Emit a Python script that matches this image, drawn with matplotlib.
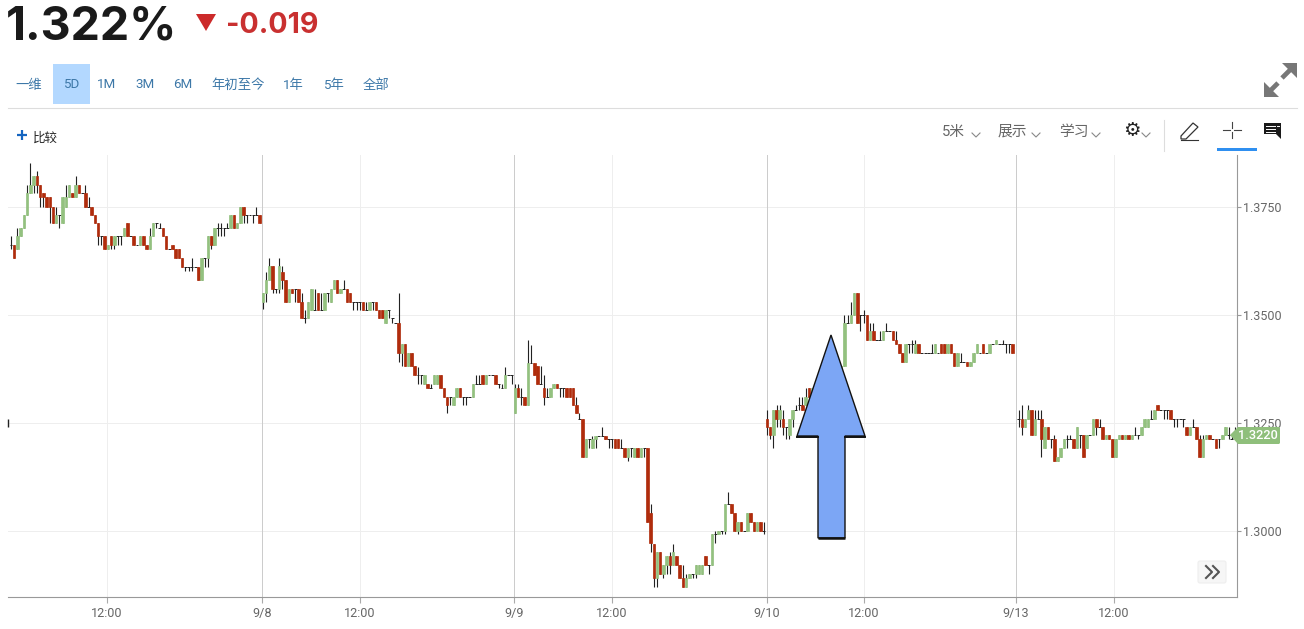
"""Redraw of a 5D 5-minute candlestick chart with its quote header and toolbar."""
import matplotlib
matplotlib.use("Agg")
import matplotlib.pyplot as plt
from matplotlib.patches import Polygon, Rectangle, FancyBboxPatch

plt.rcParams["font.family"] = ["Roboto", "Noto Sans CJK SC", "DejaVu Sans"]

# bars are (open, high, low, close), one list per trading session
session_1 = [
    (1.3662, 1.3682, 1.3652, 1.3662), (1.3662, 1.3662, 1.3633, 1.3633), (1.3652, 1.3701, 1.3652, 1.3682),
    (1.3682, 1.3701, 1.3682, 1.3701), (1.3701, 1.3731, 1.3701, 1.3731), (1.3731, 1.3802, 1.3731, 1.3782),
    (1.3782, 1.3851, 1.3782, 1.3802), (1.3802, 1.3821, 1.3782, 1.3821), (1.3821, 1.3833, 1.3782, 1.3802),
    (1.3802, 1.3802, 1.3750, 1.3772), (1.3782, 1.3782, 1.3750, 1.3772), (1.3772, 1.3772, 1.3750, 1.3750),
    (1.3772, 1.3772, 1.3712, 1.3750), (1.3750, 1.3750, 1.3712, 1.3712), (1.3712, 1.3750, 1.3712, 1.3731),
    (1.3731, 1.3731, 1.3701, 1.3731), (1.3712, 1.3772, 1.3712, 1.3772), (1.3750, 1.3802, 1.3750, 1.3772),
    (1.3772, 1.3802, 1.3772, 1.3802), (1.3782, 1.3782, 1.3772, 1.3772), (1.3772, 1.3821, 1.3772, 1.3802),
    (1.3802, 1.3802, 1.3782, 1.3782), (1.3782, 1.3782, 1.3782, 1.3782), (1.3782, 1.3802, 1.3750, 1.3750),
    (1.3750, 1.3772, 1.3750, 1.3750), (1.3750, 1.3750, 1.3731, 1.3731), (1.3731, 1.3731, 1.3712, 1.3712),
    (1.3712, 1.3712, 1.3662, 1.3682), (1.3682, 1.3682, 1.3662, 1.3682), (1.3682, 1.3682, 1.3652, 1.3652),
    (1.3652, 1.3662, 1.3652, 1.3662), (1.3682, 1.3682, 1.3652, 1.3662), (1.3662, 1.3682, 1.3652, 1.3682),
    (1.3682, 1.3682, 1.3662, 1.3682), (1.3682, 1.3682, 1.3662, 1.3682), (1.3682, 1.3701, 1.3682, 1.3701),
    (1.3712, 1.3712, 1.3682, 1.3682), (1.3682, 1.3682, 1.3682, 1.3682), (1.3682, 1.3682, 1.3662, 1.3662),
    (1.3662, 1.3662, 1.3662, 1.3662), (1.3662, 1.3682, 1.3662, 1.3682), (1.3682, 1.3682, 1.3662, 1.3662),
    (1.3662, 1.3662, 1.3652, 1.3652), (1.3652, 1.3701, 1.3652, 1.3682), (1.3682, 1.3712, 1.3682, 1.3712),
    (1.3712, 1.3712, 1.3701, 1.3712), (1.3701, 1.3712, 1.3701, 1.3701), (1.3701, 1.3701, 1.3682, 1.3682),
    (1.3682, 1.3682, 1.3652, 1.3652), (1.3652, 1.3652, 1.3652, 1.3652), (1.3662, 1.3662, 1.3652, 1.3652),
    (1.3652, 1.3652, 1.3633, 1.3633), (1.3652, 1.3652, 1.3633, 1.3633), (1.3633, 1.3633, 1.3612, 1.3612),
    (1.3612, 1.3612, 1.3603, 1.3612), (1.3612, 1.3612, 1.3603, 1.3612), (1.3612, 1.3633, 1.3603, 1.3612),
    (1.3612, 1.3612, 1.3612, 1.3612), (1.3612, 1.3612, 1.3582, 1.3582), (1.3582, 1.3633, 1.3582, 1.3633),
    (1.3633, 1.3633, 1.3612, 1.3633), (1.3633, 1.3682, 1.3612, 1.3682), (1.3682, 1.3682, 1.3652, 1.3662),
    (1.3662, 1.3701, 1.3662, 1.3701), (1.3701, 1.3712, 1.3682, 1.3701), (1.3701, 1.3712, 1.3682, 1.3701),
    (1.3701, 1.3701, 1.3682, 1.3701), (1.3701, 1.3712, 1.3701, 1.3701), (1.3701, 1.3731, 1.3701, 1.3731),
    (1.3731, 1.3731, 1.3701, 1.3701), (1.3701, 1.3712, 1.3701, 1.3712), (1.3712, 1.3750, 1.3712, 1.3750),
    (1.3750, 1.3750, 1.3712, 1.3731), (1.3731, 1.3731, 1.3712, 1.3731), (1.3731, 1.3731, 1.3731, 1.3731),
    (1.3731, 1.3731, 1.3712, 1.3731), (1.3731, 1.3750, 1.3731, 1.3731), (1.3731, 1.3731, 1.3712, 1.3712),
]
session_2 = [
    (1.3530, 1.3552, 1.3513, 1.3552), (1.3552, 1.3600, 1.3530, 1.3582), (1.3582, 1.3631, 1.3582, 1.3613),
    (1.3613, 1.3613, 1.3552, 1.3561), (1.3561, 1.3561, 1.3552, 1.3561), (1.3561, 1.3631, 1.3552, 1.3613),
    (1.3600, 1.3613, 1.3561, 1.3582), (1.3582, 1.3582, 1.3530, 1.3530), (1.3530, 1.3561, 1.3530, 1.3561),
    (1.3561, 1.3561, 1.3552, 1.3552), (1.3561, 1.3561, 1.3530, 1.3561), (1.3561, 1.3561, 1.3530, 1.3530),
    (1.3530, 1.3552, 1.3492, 1.3492), (1.3492, 1.3511, 1.3482, 1.3492), (1.3492, 1.3530, 1.3492, 1.3530),
    (1.3511, 1.3561, 1.3511, 1.3561), (1.3511, 1.3561, 1.3511, 1.3511), (1.3552, 1.3552, 1.3511, 1.3511),
    (1.3511, 1.3552, 1.3511, 1.3511), (1.3511, 1.3552, 1.3511, 1.3552), (1.3552, 1.3552, 1.3530, 1.3552),
    (1.3530, 1.3561, 1.3530, 1.3561), (1.3561, 1.3582, 1.3561, 1.3582), (1.3582, 1.3582, 1.3552, 1.3552),
    (1.3552, 1.3561, 1.3552, 1.3561), (1.3561, 1.3582, 1.3561, 1.3561), (1.3561, 1.3561, 1.3530, 1.3530),
    (1.3552, 1.3552, 1.3530, 1.3530), (1.3530, 1.3530, 1.3511, 1.3530), (1.3530, 1.3530, 1.3511, 1.3530),
    (1.3530, 1.3530, 1.3511, 1.3530), (1.3530, 1.3530, 1.3511, 1.3511), (1.3511, 1.3530, 1.3511, 1.3511),
    (1.3511, 1.3530, 1.3511, 1.3530), (1.3530, 1.3530, 1.3511, 1.3530), (1.3530, 1.3530, 1.3511, 1.3511),
    (1.3511, 1.3511, 1.3492, 1.3492), (1.3511, 1.3511, 1.3492, 1.3492), (1.3482, 1.3511, 1.3482, 1.3511),
    (1.3511, 1.3511, 1.3492, 1.3511), (1.3492, 1.3492, 1.3482, 1.3492), (1.3482, 1.3482, 1.3482, 1.3482),
    (1.3482, 1.3552, 1.3391, 1.3412), (1.3412, 1.3432, 1.3382, 1.3432), (1.3432, 1.3432, 1.3382, 1.3382),
    (1.3382, 1.3411, 1.3382, 1.3411), (1.3411, 1.3411, 1.3382, 1.3382), (1.3382, 1.3382, 1.3361, 1.3361),
    (1.3361, 1.3380, 1.3341, 1.3361), (1.3361, 1.3361, 1.3341, 1.3361), (1.3341, 1.3361, 1.3341, 1.3361),
    (1.3341, 1.3341, 1.3331, 1.3331), (1.3331, 1.3341, 1.3331, 1.3331), (1.3341, 1.3361, 1.3341, 1.3361),
    (1.3341, 1.3361, 1.3341, 1.3361), (1.3361, 1.3361, 1.3331, 1.3331), (1.3331, 1.3331, 1.3310, 1.3310),
    (1.3310, 1.3310, 1.3272, 1.3291), (1.3310, 1.3310, 1.3291, 1.3310), (1.3291, 1.3310, 1.3291, 1.3310),
    (1.3310, 1.3331, 1.3310, 1.3331), (1.3331, 1.3331, 1.3310, 1.3310), (1.3310, 1.3310, 1.3291, 1.3310),
    (1.3310, 1.3310, 1.3291, 1.3310), (1.3310, 1.3310, 1.3310, 1.3310), (1.3310, 1.3341, 1.3310, 1.3341),
    (1.3341, 1.3361, 1.3341, 1.3341), (1.3341, 1.3361, 1.3341, 1.3341), (1.3361, 1.3361, 1.3341, 1.3341),
    (1.3341, 1.3361, 1.3341, 1.3361), (1.3361, 1.3361, 1.3361, 1.3361), (1.3361, 1.3361, 1.3361, 1.3361),
    (1.3361, 1.3361, 1.3341, 1.3341), (1.3341, 1.3341, 1.3331, 1.3341), (1.3331, 1.3341, 1.3331, 1.3331),
    (1.3331, 1.3380, 1.3331, 1.3361), (1.3361, 1.3361, 1.3361, 1.3361), (1.3361, 1.3361, 1.3341, 1.3361),
]
session_3 = [
    (1.3272, 1.3341, 1.3272, 1.3332), (1.3332, 1.3341, 1.3311, 1.3311), (1.3311, 1.3332, 1.3292, 1.3311),
    (1.3311, 1.3311, 1.3292, 1.3292), (1.3292, 1.3442, 1.3292, 1.3390), (1.3390, 1.3430, 1.3390, 1.3390),
    (1.3390, 1.3390, 1.3362, 1.3362), (1.3382, 1.3382, 1.3341, 1.3341), (1.3341, 1.3382, 1.3341, 1.3341),
    (1.3332, 1.3362, 1.3292, 1.3311), (1.3311, 1.3332, 1.3311, 1.3311), (1.3311, 1.3332, 1.3311, 1.3332),
    (1.3332, 1.3341, 1.3332, 1.3341), (1.3341, 1.3341, 1.3332, 1.3332), (1.3332, 1.3332, 1.3311, 1.3332),
    (1.3332, 1.3332, 1.3311, 1.3332), (1.3332, 1.3332, 1.3311, 1.3311), (1.3332, 1.3332, 1.3311, 1.3311),
    (1.3332, 1.3332, 1.3292, 1.3292), (1.3292, 1.3311, 1.3272, 1.3272), (1.3260, 1.3272, 1.3260, 1.3260),
    (1.3260, 1.3260, 1.3172, 1.3172), (1.3172, 1.3212, 1.3172, 1.3212), (1.3212, 1.3212, 1.3192, 1.3212),
    (1.3192, 1.3221, 1.3192, 1.3212), (1.3212, 1.3221, 1.3192, 1.3221), (1.3221, 1.3221, 1.3221, 1.3221),
    (1.3221, 1.3241, 1.3221, 1.3221), (1.3221, 1.3221, 1.3212, 1.3212), (1.3212, 1.3212, 1.3192, 1.3212),
    (1.3212, 1.3212, 1.3192, 1.3212), (1.3212, 1.3212, 1.3192, 1.3192), (1.3212, 1.3212, 1.3192, 1.3192),
    (1.3192, 1.3212, 1.3192, 1.3192), (1.3192, 1.3192, 1.3172, 1.3172), (1.3172, 1.3192, 1.3162, 1.3192),
    (1.3192, 1.3192, 1.3172, 1.3192), (1.3172, 1.3192, 1.3172, 1.3192), (1.3192, 1.3192, 1.3172, 1.3172),
    (1.3172, 1.3192, 1.3172, 1.3192), (1.3192, 1.3192, 1.3172, 1.3192), (1.3192, 1.3192, 1.3021, 1.3021),
    (1.3041, 1.3062, 1.2952, 1.2973), (1.2971, 1.2971, 1.2871, 1.2891), (1.2891, 1.2952, 1.2871, 1.2952),
    (1.2952, 1.2952, 1.2901, 1.2901), (1.2901, 1.2921, 1.2891, 1.2921), (1.2921, 1.2942, 1.2901, 1.2942),
    (1.2942, 1.2952, 1.2901, 1.2921), (1.2921, 1.2971, 1.2921, 1.2952), (1.2942, 1.2942, 1.2921, 1.2921),
    (1.2921, 1.2921, 1.2891, 1.2891), (1.2891, 1.2921, 1.2871, 1.2871), (1.2871, 1.2901, 1.2871, 1.2891),
    (1.2891, 1.2901, 1.2891, 1.2901), (1.2901, 1.2901, 1.2891, 1.2901), (1.2901, 1.2921, 1.2891, 1.2921),
    (1.2901, 1.2921, 1.2901, 1.2921), (1.2901, 1.2921, 1.2901, 1.2921), (1.2942, 1.2942, 1.2921, 1.2921),
    (1.2921, 1.2921, 1.2901, 1.2921), (1.2921, 1.2992, 1.2921, 1.2992), (1.2992, 1.3000, 1.2973, 1.2992),
    (1.2992, 1.3001, 1.2992, 1.3001), (1.3001, 1.3001, 1.2992, 1.3001), (1.3001, 1.3062, 1.2992, 1.3062),
    (1.3062, 1.3091, 1.3062, 1.3062), (1.3062, 1.3062, 1.3041, 1.3041), (1.3041, 1.3041, 1.3000, 1.3000),
    (1.3000, 1.3021, 1.2992, 1.3021), (1.3021, 1.3021, 1.3000, 1.3000), (1.3000, 1.3000, 1.3000, 1.3000),
    (1.3000, 1.3041, 1.3000, 1.3041), (1.3041, 1.3041, 1.3021, 1.3021), (1.3021, 1.3021, 1.3000, 1.3000),
    (1.3000, 1.3021, 1.3000, 1.3021), (1.3021, 1.3021, 1.3000, 1.3000), (1.3000, 1.3021, 1.2992, 1.3000),
]
session_4 = [
    (1.3260, 1.3280, 1.3222, 1.3241), (1.3241, 1.3241, 1.3212, 1.3222), (1.3222, 1.3280, 1.3193, 1.3280),
    (1.3280, 1.3291, 1.3241, 1.3260), (1.3260, 1.3291, 1.3241, 1.3280), (1.3260, 1.3280, 1.3222, 1.3241),
    (1.3241, 1.3241, 1.3212, 1.3241), (1.3222, 1.3260, 1.3212, 1.3260), (1.3260, 1.3280, 1.3241, 1.3280),
    (1.3280, 1.3291, 1.3280, 1.3280), (1.3291, 1.3310, 1.3280, 1.3291), (1.3291, 1.3310, 1.3280, 1.3280),
    (1.3291, 1.3331, 1.3291, 1.3310), (1.3331, 1.3331, 1.3310, 1.3310), (1.3310, 1.3331, 1.3310, 1.3331),
    (1.3331, 1.3331, 1.3331, 1.3331), (1.3331, 1.3341, 1.3322, 1.3322), (1.3322, 1.3341, 1.3322, 1.3341),
    (1.3341, 1.3351, 1.3331, 1.3331), (1.3331, 1.3351, 1.3331, 1.3351), (1.3351, 1.3361, 1.3341, 1.3341),
    (1.3341, 1.3361, 1.3341, 1.3361), (1.3361, 1.3361, 1.3351, 1.3361), (1.3361, 1.3381, 1.3361, 1.3381),
    (1.3381, 1.3501, 1.3381, 1.3482), (1.3482, 1.3501, 1.3482, 1.3482), (1.3482, 1.3530, 1.3482, 1.3501),
    (1.3501, 1.3552, 1.3501, 1.3552), (1.3552, 1.3552, 1.3482, 1.3482), (1.3501, 1.3501, 1.3462, 1.3501),
    (1.3501, 1.3511, 1.3482, 1.3501), (1.3501, 1.3501, 1.3442, 1.3442), (1.3442, 1.3482, 1.3442, 1.3462),
    (1.3462, 1.3482, 1.3442, 1.3442), (1.3442, 1.3442, 1.3442, 1.3442), (1.3442, 1.3462, 1.3442, 1.3442),
    (1.3442, 1.3462, 1.3442, 1.3462), (1.3462, 1.3482, 1.3462, 1.3462), (1.3462, 1.3462, 1.3462, 1.3462),
    (1.3462, 1.3462, 1.3442, 1.3442), (1.3442, 1.3462, 1.3432, 1.3432), (1.3432, 1.3432, 1.3411, 1.3411),
    (1.3411, 1.3411, 1.3391, 1.3391), (1.3391, 1.3432, 1.3391, 1.3432), (1.3432, 1.3432, 1.3411, 1.3432),
    (1.3432, 1.3442, 1.3411, 1.3432), (1.3411, 1.3442, 1.3411, 1.3432), (1.3432, 1.3432, 1.3411, 1.3411),
    (1.3411, 1.3411, 1.3411, 1.3411), (1.3411, 1.3411, 1.3411, 1.3411), (1.3411, 1.3411, 1.3411, 1.3411),
    (1.3411, 1.3432, 1.3411, 1.3411), (1.3411, 1.3432, 1.3411, 1.3432), (1.3411, 1.3411, 1.3411, 1.3411),
    (1.3432, 1.3432, 1.3411, 1.3411), (1.3432, 1.3432, 1.3411, 1.3411), (1.3411, 1.3432, 1.3411, 1.3432),
    (1.3432, 1.3432, 1.3411, 1.3411), (1.3411, 1.3411, 1.3381, 1.3381), (1.3381, 1.3411, 1.3381, 1.3411),
    (1.3391, 1.3411, 1.3391, 1.3391), (1.3391, 1.3391, 1.3391, 1.3391), (1.3391, 1.3391, 1.3381, 1.3381),
    (1.3381, 1.3391, 1.3381, 1.3391), (1.3391, 1.3411, 1.3391, 1.3411), (1.3411, 1.3432, 1.3411, 1.3432),
    (1.3411, 1.3411, 1.3411, 1.3411), (1.3432, 1.3432, 1.3411, 1.3411), (1.3411, 1.3411, 1.3411, 1.3411),
    (1.3411, 1.3432, 1.3411, 1.3432), (1.3432, 1.3432, 1.3432, 1.3432), (1.3432, 1.3442, 1.3432, 1.3442),
    (1.3432, 1.3432, 1.3432, 1.3432), (1.3432, 1.3442, 1.3432, 1.3432), (1.3432, 1.3432, 1.3411, 1.3432),
    (1.3432, 1.3432, 1.3411, 1.3432), (1.3432, 1.3432, 1.3411, 1.3411),
]
session_5 = [
    (1.3260, 1.3281, 1.3241, 1.3260), (1.3260, 1.3291, 1.3222, 1.3241), (1.3241, 1.3260, 1.3241, 1.3260),
    (1.3260, 1.3291, 1.3260, 1.3281), (1.3281, 1.3281, 1.3222, 1.3222), (1.3222, 1.3281, 1.3222, 1.3260),
    (1.3260, 1.3281, 1.3260, 1.3260), (1.3260, 1.3281, 1.3172, 1.3212), (1.3191, 1.3241, 1.3191, 1.3241),
    (1.3241, 1.3241, 1.3212, 1.3212), (1.3212, 1.3212, 1.3191, 1.3212), (1.3212, 1.3222, 1.3162, 1.3162),
    (1.3162, 1.3172, 1.3162, 1.3172), (1.3172, 1.3191, 1.3172, 1.3191), (1.3191, 1.3212, 1.3191, 1.3212),
    (1.3212, 1.3222, 1.3191, 1.3212), (1.3212, 1.3222, 1.3212, 1.3212), (1.3212, 1.3212, 1.3191, 1.3191),
    (1.3191, 1.3241, 1.3191, 1.3241), (1.3222, 1.3222, 1.3191, 1.3222), (1.3222, 1.3222, 1.3172, 1.3172),
    (1.3191, 1.3222, 1.3191, 1.3222), (1.3222, 1.3222, 1.3222, 1.3222), (1.3222, 1.3260, 1.3222, 1.3260),
    (1.3260, 1.3260, 1.3222, 1.3241), (1.3241, 1.3260, 1.3241, 1.3241), (1.3241, 1.3241, 1.3212, 1.3212),
    (1.3212, 1.3222, 1.3212, 1.3222), (1.3222, 1.3222, 1.3212, 1.3212), (1.3212, 1.3212, 1.3172, 1.3172),
    (1.3172, 1.3212, 1.3172, 1.3212), (1.3212, 1.3222, 1.3212, 1.3222), (1.3222, 1.3222, 1.3212, 1.3212),
    (1.3212, 1.3222, 1.3212, 1.3222), (1.3222, 1.3222, 1.3212, 1.3212), (1.3212, 1.3222, 1.3212, 1.3222),
    (1.3222, 1.3241, 1.3222, 1.3222), (1.3222, 1.3222, 1.3212, 1.3222), (1.3222, 1.3241, 1.3222, 1.3241),
    (1.3241, 1.3260, 1.3241, 1.3260), (1.3241, 1.3260, 1.3241, 1.3260), (1.3260, 1.3281, 1.3260, 1.3260),
    (1.3260, 1.3281, 1.3260, 1.3281), (1.3291, 1.3291, 1.3281, 1.3281), (1.3281, 1.3281, 1.3281, 1.3281),
    (1.3281, 1.3281, 1.3260, 1.3281), (1.3281, 1.3281, 1.3260, 1.3281), (1.3281, 1.3281, 1.3260, 1.3260),
    (1.3260, 1.3260, 1.3241, 1.3260), (1.3260, 1.3260, 1.3241, 1.3260), (1.3260, 1.3260, 1.3260, 1.3260),
    (1.3260, 1.3260, 1.3241, 1.3260), (1.3241, 1.3241, 1.3222, 1.3222), (1.3222, 1.3241, 1.3222, 1.3241),
    (1.3241, 1.3260, 1.3241, 1.3241), (1.3241, 1.3241, 1.3212, 1.3212), (1.3212, 1.3222, 1.3172, 1.3172),
    (1.3172, 1.3222, 1.3172, 1.3212), (1.3212, 1.3222, 1.3212, 1.3222), (1.3222, 1.3222, 1.3212, 1.3212),
    (1.3212, 1.3212, 1.3212, 1.3212), (1.3212, 1.3212, 1.3191, 1.3191), (1.3212, 1.3212, 1.3191, 1.3212),
    (1.3212, 1.3222, 1.3212, 1.3222), (1.3222, 1.3241, 1.3222, 1.3241), (1.3222, 1.3241, 1.3212, 1.3222),
    (1.3212, 1.3222, 1.3212, 1.3212), (1.3222, 1.3241, 1.3222, 1.3222),
]
session_starts = [0, 78, 156, 234, 312]

price_ticks = [1.3000, 1.3250, 1.3500, 1.3750]
day_tick_pos = [77.7, 155.7, 234.05, 311.1]
day_tick_labels = ["9/8", "9/9", "9/10", "9/13"]
noon_tick_pos = [29.7, 108.05, 186.07, 264.1, 341.5]
last_price = 1.3220

range_labels = ["一维", "5D", "1M", "3M", "6M", "年初至今", "1年", "5年", "全部"]
range_centers = [29, 71, 107, 145, 183, 238, 293, 333, 376]
menu_labels = ["5米", "展示", "学习"]
menu_lefts = [942, 998, 1059]

UP = "#93c17f"
DOWN = "#b02c0c"
WICK = "#222222"
W, H = 1304, 629


def draw_candles(ax):
    sessions = [session_1, session_2, session_3, session_4, session_5]
    for start, bars in zip(session_starts, sessions):
        for k, (o, h, l, c) in enumerate(bars):
            x = start + k
            if h > l:
                ax.vlines(x, l, h, color=WICK, linewidth=0.8, zorder=3)
            if o == c:
                ax.hlines(o, x - 0.45, x + 0.45, color=WICK, linewidth=0.7, zorder=3)
            else:
                col = UP if c > o else DOWN
                ax.bar(x, abs(c - o), bottom=min(o, c), width=0.78,
                       color=col, edgecolor=col, linewidth=0.5, zorder=4)
    # stray tick from the previous close at the left edge
    ax.vlines(-0.93, 1.3241, 1.3260, color=WICK, linewidth=1.0, zorder=3, clip_on=False)


def chevron(ui, x, y, size=4, color="#888888"):
    ui.plot([x - size, x, x + size], [y - size * 0.5, y + size * 0.5, y - size * 0.5],
            color=color, linewidth=0.8)


def draw_chrome(ui):
    # quote header
    ui.text(6, 40, "1.322%", fontsize=33.5, fontweight="bold", color="#1a1a1a", family="Inter", va="baseline")
    ui.add_patch(Polygon([(196, 14), (216, 14), (206, 31)], closed=True, color="#cc2a2a", linewidth=0))
    ui.text(226, 33, "-0.019", fontsize=20.6, fontweight="bold", color="#c93030", family="Inter", va="baseline")

    # range selector
    ui.add_patch(Rectangle((53, 64), 37, 40, color="#b3d8ff", linewidth=0))
    for label, cx in zip(range_labels, range_centers):
        ui.text(cx, 85, label, fontsize=9.6, color="#3d78a8", ha="center", va="center")
    ui.plot([8, 1297], [108, 108], color="#dddddd", linewidth=0.8)

    # expand icon
    ui.plot([1268, 1278], [93, 83], color="#777777", linewidth=3.4, solid_capstyle="butt")
    ui.plot([1282, 1292], [78, 68], color="#777777", linewidth=3.4, solid_capstyle="butt")
    ui.add_patch(Polygon([(1282, 63), (1297, 63), (1297, 78)], closed=True, color="#777777", linewidth=0))
    ui.add_patch(Polygon([(1264, 97), (1264, 82), (1279, 97)], closed=True, color="#777777", linewidth=0))

    # compare button
    ui.plot([17, 27], [135, 135], color="#1565c0", linewidth=1.6, solid_capstyle="butt")
    ui.plot([22, 22], [130, 140], color="#1565c0", linewidth=1.6, solid_capstyle="butt")
    ui.text(45, 138, "比较", fontsize=9, color="#222222", ha="center", va="center")

    # toolbar
    for label, left in zip(menu_labels, menu_lefts):
        ui.text(left, 132, label, fontsize=10.6, color="#666666", ha="left", va="center")
    for x in [976, 1036, 1096, 1146]:
        chevron(ui, x, 135)
    ui.text(1132, 130, "\u2699", fontsize=14, color="#222222", family="DejaVu Sans", ha="center", va="center")
    ui.plot([1164, 1164], [120, 151], color="#dddddd", linewidth=0.8)
    ui.add_patch(Polygon([(1181, 136), (1193, 123), (1198, 127), (1186, 139), (1181, 139)],
                         closed=True, facecolor="white", edgecolor="#333333", linewidth=0.9))
    ui.plot([1181, 1198], [139.5, 139.5], color="#333333", linewidth=0.8)
    ui.plot([1223, 1230], [130, 130], color="#444444", linewidth=0.8)
    ui.plot([1234, 1241], [130, 130], color="#444444", linewidth=0.8)
    ui.plot([1232, 1232], [122, 128], color="#444444", linewidth=0.8)
    ui.plot([1232, 1232], [132, 138], color="#444444", linewidth=0.8)
    ui.add_patch(Rectangle((1217, 148), 40, 3, color="#2f8ff0", linewidth=0))
    ui.add_patch(Polygon([(1264, 123), (1281, 123), (1281, 139), (1276, 134), (1264, 134)],
                         closed=True, color="#1a1a1a", linewidth=0))
    for y in [126, 129, 132]:
        ui.plot([1266, 1275], [y, y], color="white", linewidth=0.7)
    ui.plot([1277, 1279], [126, 126], color="white", linewidth=0.7)

    # annotation arrow pasted over the chart
    ui.add_patch(Polygon([(831, 335), (865, 436), (845, 436), (845, 538), (818, 538), (818, 436), (797, 436)],
                         closed=True, facecolor="#7ca6f5", edgecolor="#111111", linewidth=1.0, zorder=6))
    ui.plot([818, 845], [538, 538], color="#111111", linewidth=1.8, zorder=7, solid_capstyle="butt")
    ui.plot([797, 818], [436.5, 436.5], color="#111111", linewidth=1.4, zorder=7)
    ui.plot([845, 865], [436.5, 436.5], color="#111111", linewidth=1.4, zorder=7)

    # scroll button
    ui.add_patch(FancyBboxPatch((1198, 561), 28, 22, boxstyle="round,pad=0,rounding_size=2",
                                facecolor="#f6f6f6", edgecolor="#eeeeee", linewidth=0.8))
    for x0 in [1206, 1213]:
        ui.plot([x0, x0 + 6, x0], [566, 572, 578], color="#555555", linewidth=1.5)

    # last price flag
    ui.add_patch(Polygon([(1230, 435), (1238, 427), (1279, 427), (1280, 428), (1280, 443), (1279, 444), (1238, 444)],
                         closed=True, color="#8fbf7b", linewidth=0, zorder=6))
    ui.text(1258, 435.5, f"{last_price:.4f}", fontsize=9.2, fontweight="medium", color="white",
            ha="center", va="center", zorder=7)


def main():
    fig = plt.figure(figsize=(W / 100, H / 100), dpi=100, facecolor="white")

    left, right, top, bottom = 8, 1237, 155, 597
    ax = fig.add_axes([left / W, 1 - bottom / H, (right - left) / W, (bottom - top) / H])
    ax.set_xlim((left - 11) / 3.23, (right - 11) / 3.23)
    ax.set_ylim(1.375 - (bottom - 207) / 4320, 1.375 + (207 - top) / 4320)
    ax.patch.set_alpha(0)

    for p in price_ticks:
        ax.axhline(p, color="#eeeeee", linewidth=0.72, zorder=1)
    for x in noon_tick_pos:
        ax.axvline(x, color="#eeeeee", linewidth=0.72, zorder=1)
    for x in day_tick_pos:
        ax.axvline(x, color="#cccccc", linewidth=0.72, zorder=1)

    draw_candles(ax)

    for side in ["left", "top"]:
        ax.spines[side].set_visible(False)
    for side in ["right", "bottom"]:
        ax.spines[side].set_color("#999999")
    ax.yaxis.tick_right()
    ax.set_yticks(price_ticks, [f"{p:.4f}" for p in price_ticks])
    ax.set_xticks(noon_tick_pos + day_tick_pos,
                  ["12:00"] * len(noon_tick_pos) + day_tick_labels)
    ax.tick_params(axis="y", length=3, width=0.8, color="#999999", labelcolor="#666666",
                   labelsize=9, pad=1)
    ax.tick_params(axis="x", length=4, width=0.8, color="#aaaaaa", labelcolor="#666666",
                   labelsize=9.1, pad=3)

    ui = fig.add_axes([0, 0, 1, 1], zorder=5)
    ui.set_xlim(0, W)
    ui.set_ylim(H, 0)
    ui.axis("off")
    draw_chrome(ui)

    fig.savefig("out.png", dpi=100)
    plt.close(fig)


if __name__ == "__main__":
    main()
